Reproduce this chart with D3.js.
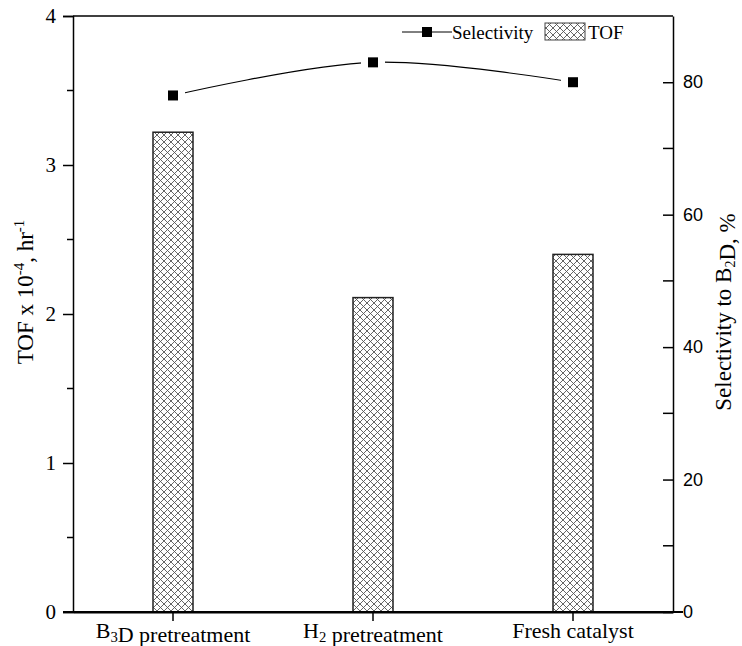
<!DOCTYPE html>
<html>
<head>
<meta charset="utf-8">
<title>TOF and selectivity</title>
<script src="https://cdn.jsdelivr.net/npm/d3@7"></script>
<style>
  body { margin: 0; background: #fff; }
  .serif { font-family: "Liberation Serif", "Times New Roman", serif; }
  .sans { font-family: "Liberation Sans", Arial, sans-serif; }
</style>
</head>
<body>
<script>
// data ("_x" marks a subscript character)
var categories = ["B_3D pretreatment", "H_2 pretreatment", "Fresh catalyst"];
var tof = [3.22, 2.11, 2.40];
var selectivity = [78, 83, 80];
var leftTicks = [0, 1, 2, 3, 4];
var leftMinor = [0.5, 1.5, 2.5, 3.5];
var rightTicks = [0, 20, 40, 60, 80];
var rightMinor = [10, 30, 50, 70];

var W = 742, H = 646;
var margin = {top: 16, right: 69, bottom: 34, left: 73};
var width = W - margin.left - margin.right,
    height = H - margin.top - margin.bottom;

var svg = d3.select("body").append("svg")
  .attr("width", W).attr("height", H);

// crosshatch pattern
var pat = svg.append("defs").append("pattern")
  .attr("id", "hatch").attr("patternUnits", "userSpaceOnUse")
  .attr("width", 7).attr("height", 7);
pat.append("rect").attr("width", 7).attr("height", 7).attr("fill", "#fff");
pat.append("path").attr("d", "M0,0L7,7M7,0L0,7M-1,6L1,8M6,-1L8,1M-1,1L1,-1M6,8L8,6")
  .attr("stroke", "#555").attr("stroke-width", 0.9).attr("fill", "none");

var g = svg.append("g")
  .attr("transform", "translate(" + margin.left + "," + margin.top + ")");

var x = d3.scaleBand().domain(categories).range([0, width])
  .paddingInner(0.8).paddingOuter(0.4);
var yL = d3.scaleLinear().domain([0, 4]).range([height, 0]);
var yR = d3.scaleLinear().domain([0, 90]).range([height, 0]);

// subscript text helper
function richText(sel, s, size) {
  var parts = s.split(/(_.)/);
  parts.forEach(function(p) {
    if (!p) return;
    if (p[0] === "_") {
      sel.append("tspan").attr("dy", size * 0.2).style("font-size", (size * 0.7) + "px").text(p[1]);
      sel.append("tspan").attr("dy", -size * 0.2).text("");
    } else {
      sel.append("tspan").text(p);
    }
  });
}

// bars
g.selectAll(".bar").data(categories).enter().append("rect")
  .attr("class", "bar")
  .attr("x", function(d) { return x(d); })
  .attr("width", x.bandwidth())
  .attr("y", function(d, i) { return yL(tof[i]); })
  .attr("height", function(d, i) { return height - yL(tof[i]); })
  .attr("fill", "url(#hatch)")
  .attr("stroke", "#222").attr("stroke-width", 1.5);

// frame
g.append("line").attr("x1", 0).attr("x2", width).attr("y1", 0).attr("y2", 0)
  .attr("stroke", "#000").attr("stroke-width", 1.5);

// left axis
var leftAxis = d3.axisLeft(yL).tickValues(leftTicks).tickFormat(d3.format("d"))
  .tickSize(10).tickPadding(7);
var gl = g.append("g").attr("class", "serif").call(leftAxis);
gl.selectAll(".tick line").attr("stroke-width", 1.5);
gl.select(".domain").attr("stroke-width", 1.5);
gl.selectAll("text").style("font-size", "21px").attr("fill", "#000");
gl.selectAll(".minor").data(leftMinor).enter().append("line")
  .attr("x1", -6).attr("x2", 0)
  .attr("y1", function(d) { return yL(d); }).attr("y2", function(d) { return yL(d); })
  .attr("stroke", "#000").attr("stroke-width", 1.5);

// right axis (ticks inward)
var rightAxis = d3.axisRight(yR).tickValues(rightTicks).tickSizeInner(-10).tickSizeOuter(0).tickPadding(10);
var gr = g.append("g").attr("class", "sans")
  .attr("transform", "translate(" + width + ",0)").call(rightAxis);
gr.selectAll(".tick line").attr("stroke-width", 1.5);
gr.select(".domain").attr("stroke-width", 1.5);
gr.selectAll("text").style("font-size", "18px").attr("fill", "#000");
gr.selectAll(".minor").data(rightMinor).enter().append("line")
  .attr("x1", -10).attr("x2", 0)
  .attr("y1", function(d) { return yR(d); }).attr("y2", function(d) { return yR(d); })
  .attr("stroke", "#000").attr("stroke-width", 1.5);

// bottom axis
var bottomAxis = d3.axisBottom(x).tickSize(9).tickSizeOuter(0).tickFormat("");
var gb = g.append("g").attr("transform", "translate(0," + height + ")").call(bottomAxis);
gb.selectAll(".tick line").attr("stroke-width", 1.5);
gb.select(".domain").attr("stroke-width", 2);
gb.append("line").attr("x1", -10).attr("x2", width + 10).attr("y1", 0).attr("y2", 0)
  .attr("stroke", "#000").attr("stroke-width", 2);
gb.selectAll(".tick").append("text")
  .attr("class", "serif").attr("y", 26).attr("text-anchor", "middle")
  .attr("fill", "#000").style("font-size", "22px")
  .each(function(d) { richText(d3.select(this), d, 21); });

// selectivity line
var line = d3.line()
  .x(function(d, i) { return x(categories[i]) + x.bandwidth() / 2; })
  .y(function(d) { return yR(d); })
  .curve(d3.curveCardinal);
g.append("path").attr("d", line(selectivity))
  .attr("fill", "none").attr("stroke", "#000").attr("stroke-width", 1.2);

// gap around markers then markers
g.selectAll(".gap").data(selectivity).enter().append("rect")
  .attr("x", function(d, i) { return x(categories[i]) + x.bandwidth() / 2 - 12; })
  .attr("y", function(d) { return yR(d) - 12; })
  .attr("width", 24).attr("height", 24).attr("fill", "#fff");
g.selectAll(".mark").data(selectivity).enter().append("rect")
  .attr("x", function(d, i) { return x(categories[i]) + x.bandwidth() / 2 - 5; })
  .attr("y", function(d) { return yR(d) - 5; })
  .attr("width", 10).attr("height", 10).attr("fill", "#000");

// legend
var lg = svg.append("g").attr("class", "serif");
lg.append("line").attr("x1", 402).attr("x2", 452).attr("y1", 32).attr("y2", 32)
  .attr("stroke", "#000").attr("stroke-width", 1);
lg.append("rect").attr("x", 422).attr("y", 27).attr("width", 10).attr("height", 10).attr("fill", "#000");
lg.append("text").attr("x", 452).attr("y", 39).style("font-size", "19px").text("Selectivity");
lg.append("rect").attr("x", 545).attr("y", 23).attr("width", 40).attr("height", 17)
  .attr("fill", "url(#hatch)").attr("stroke", "#444").attr("stroke-width", 1);
lg.append("text").attr("x", 588).attr("y", 39).style("font-size", "19px").text("TOF");

// axis titles
var tl = svg.append("text").attr("class", "serif")
  .attr("transform", "translate(33," + (margin.top + height / 2 - 22) + ") rotate(-90)")
  .attr("text-anchor", "middle").style("font-size", "23px");
tl.append("tspan").text("TOF x 10");
tl.append("tspan").attr("dy", -9).style("font-size", "15px").text("-4");
tl.append("tspan").attr("dy", 9).text(", hr");
tl.append("tspan").attr("dy", -9).style("font-size", "15px").text("-1");

var tr = svg.append("text").attr("class", "serif")
  .attr("transform", "translate(731," + (margin.top + height / 2 - 2) + ") rotate(-90)")
  .attr("text-anchor", "middle").style("font-size", "23px");
richText(tr, "Selectivity to B_2D, %", 20);
</script>
</body>
</html>
